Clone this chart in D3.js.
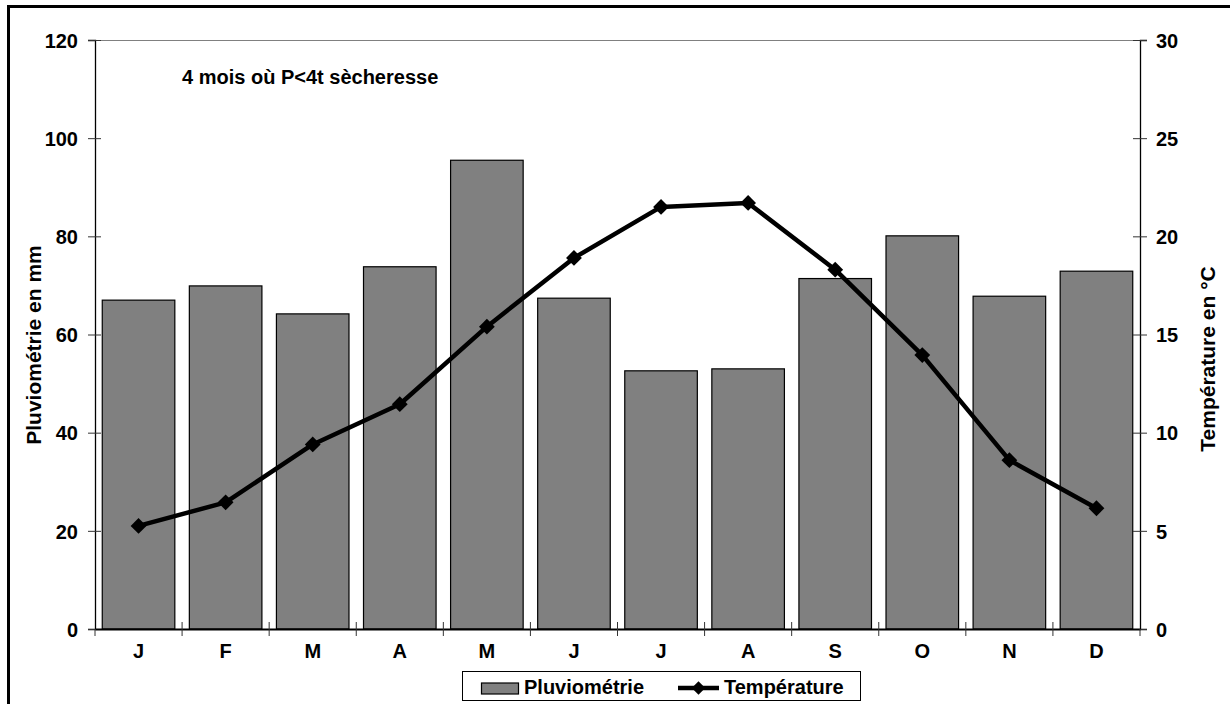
<!DOCTYPE html>
<html>
<head>
<meta charset="utf-8">
<script src="https://cdn.jsdelivr.net/npm/d3@7"></script>
<style>
  html, body { margin: 0; padding: 0; background: #fff; }
  svg { display: block; }
  text { font-family: "Liberation Sans", Arial, sans-serif; font-weight: bold; fill: #000; }
</style>
</head>
<body>
<svg id="chart" width="1230" height="704"></svg>
<script>
const months = ["J", "F", "M", "A", "M", "J", "J", "A", "S", "O", "N", "D"];
const rainfall = [67.0, 69.9, 64.2, 73.8, 95.5, 67.4, 52.6, 53.0, 71.4, 80.1, 67.8, 72.9];
const temperature = [5.25, 6.45, 9.4, 11.45, 15.4, 18.9, 21.5, 21.7, 18.3, 13.95, 8.6, 6.15];
const leftTicks = [0, 20, 40, 60, 80, 100, 120];
const rightTicks = [0, 5, 10, 15, 20, 25, 30];
const annotation = "4 mois où P<4t sècheresse";
const leftTitle = "Pluviométrie en mm";
const rightTitle = "Température en °C";
const legendLabels = ["Pluviométrie", "Température"];

const svg = d3.select("#chart");
const L = 95, R = 1140, T = 40, B = 629;
const fs = 20;

// outer frame
svg.append("rect").attr("x", 8.5).attr("y", 6.5).attr("width", 1300).attr("height", 800)
  .attr("fill", "none").attr("stroke", "#000").attr("stroke-width", 3);

const idx = d3.range(months.length);
const x = d3.scaleBand().domain(idx).range([L, R]).paddingInner(1/6).paddingOuter(1/12);
const yL = d3.scaleLinear().domain([0, 120]).range([B, T]);
const yR = d3.scaleLinear().domain([0, 30]).range([B, T]);

// top border line of plot area
svg.append("line").attr("x1", L).attr("x2", R).attr("y1", T + 0.5).attr("y2", T + 0.5)
  .attr("stroke", "#808080").attr("stroke-width", 1);

// bars
svg.append("g").selectAll("rect").data(rainfall).join("rect")
  .attr("x", (d, i) => x(i))
  .attr("y", d => yL(d))
  .attr("width", x.bandwidth())
  .attr("height", d => yL(0) - yL(d))
  .attr("fill", "#808080").attr("stroke", "#000").attr("stroke-width", 1.2);

// left axis
const gL = svg.append("g").attr("transform", `translate(${L},0)`)
  .call(d3.axisLeft(yL).tickValues(leftTicks).tickSize(7).tickPadding(10));
gL.select(".domain").attr("stroke", "#000").attr("stroke-width", 1.3);
gL.selectAll(".tick line").attr("x2", -7).attr("x1", 6).attr("stroke", "#333");
gL.selectAll(".tick text").attr("font-size", fs).attr("font-family", null).attr("x", -17).attr("dy", "0.36em");

// right axis
const gR = svg.append("g").attr("transform", `translate(${R},0)`)
  .call(d3.axisRight(yR).tickValues(rightTicks).tickSize(7).tickPadding(10));
gR.select(".domain").attr("stroke", "#000").attr("stroke-width", 1.3);
gR.selectAll(".tick line").attr("x1", -7).attr("x2", 7).attr("stroke", "#333");
gR.selectAll(".tick text").attr("font-size", fs).attr("font-family", null).attr("x", 16).attr("dy", "0.36em");

// x axis
const gX = svg.append("g").attr("transform", `translate(0,${B})`)
  .call(d3.axisBottom(x).tickFormat(i => months[i]).tickSize(0).tickPadding(15));
gX.select(".domain").attr("stroke", "#000").attr("stroke-width", 2);
gX.selectAll(".tick text").attr("font-size", fs).attr("font-family", null).attr("dy", "0.71em");
// boundary ticks
const bounds = idx.map(i => x(i) - x.step() * x.paddingInner() / 2).concat([R]);
svg.append("g").selectAll("line").data(bounds).join("line")
  .attr("x1", d => d).attr("x2", d => d)
  .attr("y1", (d, i) => (i === 0 || i === bounds.length - 1) ? B : B - 7)
  .attr("y2", B + 7)
  .attr("stroke", "#333").attr("stroke-width", 1);

// temperature line
const line = d3.line().x((d, i) => x(i) + x.bandwidth() / 2).y(d => yR(d));
svg.append("path").datum(temperature).attr("d", line)
  .attr("fill", "none").attr("stroke", "#000").attr("stroke-width", 4.5).attr("stroke-linejoin", "round");
svg.append("g").selectAll("path").data(temperature).join("path")
  .attr("d", d3.symbol().type(d3.symbolSquare).size(125))
  .attr("transform", (d, i) => `translate(${x(i) + x.bandwidth() / 2},${yR(d)}) rotate(45)`)
  .attr("fill", "#000");

// annotation
svg.append("text").attr("x", 182).attr("y", 84).attr("font-size", 20).text(annotation);

// axis titles
svg.append("text").attr("transform", `translate(41,345) rotate(-90)`).attr("text-anchor", "middle")
  .attr("font-size", 21).text(leftTitle);
svg.append("text").attr("transform", `translate(1215,359) rotate(-90)`).attr("text-anchor", "middle")
  .attr("font-size", 21).text(rightTitle);

// legend
const lg = svg.append("g");
lg.append("rect").attr("x", 462.5).attr("y", 671.5).attr("width", 398).attr("height", 29)
  .attr("fill", "#fff").attr("stroke", "#000").attr("stroke-width", 1);
lg.append("rect").attr("x", 481.5).attr("y", 683).attr("width", 37).attr("height", 11)
  .attr("fill", "#808080").attr("stroke", "#000").attr("stroke-width", 1.2);
lg.append("text").attr("x", 524).attr("y", 694).attr("font-size", fs).text(legendLabels[0]);
lg.append("line").attr("x1", 678).attr("x2", 719).attr("y1", 688).attr("y2", 688)
  .attr("stroke", "#000").attr("stroke-width", 4.5);
lg.append("path").attr("d", d3.symbol().type(d3.symbolSquare).size(90))
  .attr("transform", "translate(698.5,688) rotate(45)").attr("fill", "#000");
lg.append("text").attr("x", 724).attr("y", 694).attr("font-size", fs).text(legendLabels[1]);
</script>
</body>
</html>
